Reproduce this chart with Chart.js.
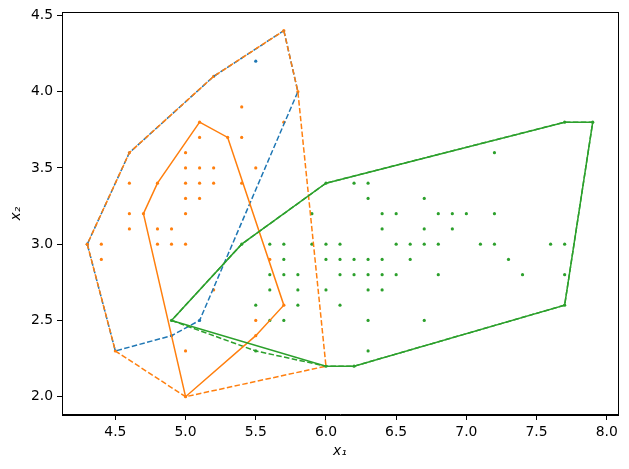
<!DOCTYPE html>
<html>
<head>
<meta charset="utf-8">
<script src="https://cdn.jsdelivr.net/npm/chart.js@4"></script>
<style>
  html, body { margin: 0; padding: 0; background: #fff; }
  #wrap { width: 629px; height: 469px; }
</style>
</head>
<body>
<div id="wrap"><canvas id="grafico"></canvas></div>
<script>
// Puntos (x1, x2), agrupados por color
const PUNTOS_AZUL = [[5.5, 4.2], [4.3, 3.0], [5.1, 2.5], [4.9, 2.4]];
const PUNTOS_NARANJA = [
  [4.3, 3.0], [4.4, 2.9], [4.4, 3.0], [4.5, 2.3], [4.6, 3.1], [4.6, 3.2], [4.6, 3.4], [4.6, 3.6],
  [4.7, 3.2], [4.8, 3.0], [4.8, 3.1], [4.8, 3.4], [4.9, 3.0], [4.9, 3.1], [5.0, 3.0], [5.0, 3.2],
  [5.0, 3.3], [5.0, 3.4], [5.0, 3.5], [5.0, 3.6], [5.1, 3.3], [5.1, 3.4], [5.1, 3.5], [5.1, 3.7],
  [5.1, 3.8], [5.2, 3.4], [5.2, 3.5], [5.2, 4.1], [5.3, 3.7], [5.4, 3.4], [5.4, 3.7], [5.4, 3.9],
  [5.5, 3.5], [5.7, 3.8], [5.7, 4.4], [5.8, 4.0],
  [5.0, 2.0], [5.0, 2.3], [5.2, 2.7], [5.5, 2.4], [5.5, 2.5], [5.6, 2.9], [5.7, 2.6],
];
const PUNTOS_VERDE = [
  [6.0, 2.2], [6.2, 2.2],
  [5.5, 2.3], [6.3, 2.3],
  [4.9, 2.5], [5.6, 2.5], [5.7, 2.5], [6.3, 2.5], [6.7, 2.5],
  [5.5, 2.6], [5.8, 2.6], [6.1, 2.6], [7.7, 2.6],
  [5.6, 2.7], [5.8, 2.7], [6.0, 2.7], [6.3, 2.7], [6.4, 2.7],
  [5.6, 2.8], [5.7, 2.8], [5.8, 2.8], [6.1, 2.8], [6.2, 2.8], [6.3, 2.8], [6.4, 2.8], [6.5, 2.8],
  [6.8, 2.8], [7.4, 2.8], [7.7, 2.8],
  [5.7, 2.9], [6.0, 2.9], [6.1, 2.9], [6.2, 2.9], [6.3, 2.9], [6.4, 2.9], [6.6, 2.9], [7.3, 2.9],
  [5.4, 3.0], [5.6, 3.0], [5.7, 3.0], [5.9, 3.0], [6.0, 3.0], [6.1, 3.0], [6.5, 3.0], [6.6, 3.0],
  [6.7, 3.0], [6.8, 3.0], [7.1, 3.0], [7.2, 3.0], [7.6, 3.0], [7.7, 3.0],
  [6.4, 3.1], [6.7, 3.1], [6.9, 3.1],
  [5.9, 3.2], [6.4, 3.2], [6.5, 3.2], [6.8, 3.2], [6.9, 3.2], [7.0, 3.2], [7.2, 3.2],
  [6.3, 3.3], [6.7, 3.3],
  [6.0, 3.4], [6.2, 3.4], [6.3, 3.4],
  [7.2, 3.6],
  [7.7, 3.8], [7.9, 3.8],
];

// Envolventes (polígonos cerrados)
const ENV_AZUL_DISCONT = [[5.7, 4.4], [5.8, 4.0], [5.1, 2.5], [4.9, 2.4], [4.5, 2.3], [4.3, 3.0], [4.6, 3.6], [5.2, 4.1], [5.7, 4.4]];
const ENV_NARANJA_DISCONT = [[5.7, 4.4], [5.8, 4.0], [6.0, 2.2], [5.0, 2.0], [4.5, 2.3], [4.3, 3.0], [4.6, 3.6], [5.2, 4.1], [5.7, 4.4]];
const ENV_VERDE_DISCONT = [[4.9, 2.5], [5.5, 2.3], [6.0, 2.2], [6.2, 2.2], [7.7, 2.6], [7.9, 3.8], [7.7, 3.8], [6.0, 3.4], [5.4, 3.0], [4.9, 2.5]];
const ENV_NARANJA = [[5.1, 3.8], [5.3, 3.7], [5.7, 2.6], [5.5, 2.4], [5.0, 2.0], [4.7, 3.2], [4.8, 3.4], [5.1, 3.8]];
const ENV_VERDE = [[4.9, 2.5], [6.0, 2.2], [6.2, 2.2], [7.7, 2.6], [7.9, 3.8], [7.7, 3.8], [6.0, 3.4], [5.4, 3.0], [4.9, 2.5]];

const TICKS_X = [4.5, 5.0, 5.5, 6.0, 6.5, 7.0, 7.5, 8.0];
const TICKS_Y = [2.0, 2.5, 3.0, 3.5, 4.0, 4.5];

const AZUL = "#1f77b4";
const NARANJA = "#ff7f0e";
const VERDE = "#2ca02c";

Chart.defaults.font.family = "'DejaVu Sans', sans-serif";
Chart.defaults.font.size = 13.9;
Chart.defaults.color = "#000";

const aXY = pts => pts.map(p => ({ x: p[0], y: p[1] }));

function puntos(pts, color, orden) {
  return { data: aXY(pts), backgroundColor: color, borderWidth: 0, pointRadius: 1.6, showLine: false, order: orden };
}

function envolvente(pts, color, discontinua, orden) {
  return {
    data: aXY(pts),
    showLine: true,
    borderColor: color,
    borderWidth: 1.5,
    borderDash: discontinua ? [5.5, 2.4] : [],
    pointRadius: 0,
    fill: false,
    tension: 0,
    order: orden,
  };
}

const marco = {
  id: "marco",
  afterDraw(chart) {
    const { ctx, chartArea: a } = chart;
    ctx.save();
    ctx.strokeStyle = "#000";
    ctx.lineWidth = 1;
    ctx.strokeRect(Math.round(a.left) + 0.5, Math.round(a.top) + 0.5, Math.round(a.right - a.left), Math.round(a.bottom - a.top));
    ctx.restore();
  },
};

function ejeComun(ticks) {
  return {
    type: "linear",
    afterBuildTicks: s => { s.ticks = ticks.map(v => ({ value: v })); },
    ticks: { callback: v => v.toFixed(1), padding: 4, color: "#000", autoSkip: false, maxRotation: 0 },
    grid: { display: true, drawOnChartArea: false, drawTicks: true, tickLength: 5, tickColor: "#000", tickWidth: 1 },
    border: { display: true, color: "#000", width: 1 },
  };
}

new Chart(document.getElementById("grafico"), {
  type: "scatter",
  data: {
    datasets: [
      puntos(PUNTOS_AZUL, AZUL, 10),
      puntos(PUNTOS_NARANJA, NARANJA, 9),
      puntos(PUNTOS_VERDE, VERDE, 8),
      envolvente(ENV_AZUL_DISCONT, AZUL, true, 7),
      envolvente(ENV_NARANJA_DISCONT, NARANJA, true, 6),
      envolvente(ENV_VERDE_DISCONT, VERDE, true, 5),
      envolvente(ENV_NARANJA, NARANJA, false, 4),
      envolvente(ENV_VERDE, VERDE, false, 3),
    ],
  },
  options: {
    responsive: true,
    maintainAspectRatio: false,
    animation: false,
    layout: { padding: { left: 0, right: 11, top: 12, bottom: 0 } },
    plugins: { legend: { display: false }, tooltip: { enabled: false } },
    scales: {
      x: {
        ...ejeComun(TICKS_X),
        min: 4.12, max: 8.08,
        afterFit: s => { s.height = 54; },
        title: { display: true, text: "x₁", font: { style: "italic", size: 13.9 }, padding: { top: 0, bottom: 9 } },
      },
      y: {
        ...ejeComun(TICKS_Y),
        min: 1.88, max: 4.52,
        afterFit: s => { s.width = 62; },
        title: { display: true, text: "x₂", font: { style: "italic", size: 13.9 }, padding: { top: 8, bottom: 0 } },
      },
    },
  },
  plugins: [marco],
});
</script>
</body>
</html>
